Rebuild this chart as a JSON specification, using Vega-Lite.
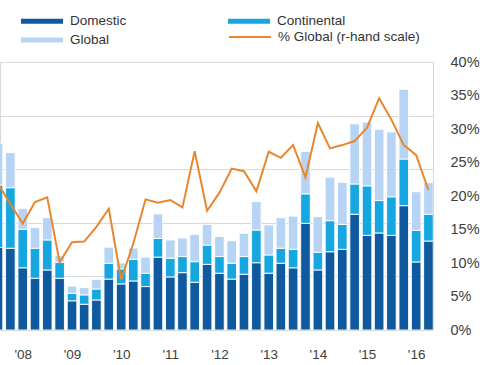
{
  "$schema": "https://vega.github.io/schema/vega-lite/v6.json",
  "width": 433,
  "height": 268,
  "autosize": {"type": "none"},
  "padding": {"left": 0, "top": 62, "right": 47, "bottom": 35},
  "config": {
    "font": "Liberation Sans",
    "view": {"stroke": "#d9d9d9", "strokeWidth": 1},
    "axis": {"labelColor": "#404040", "labelFontSize": 13.5, "labelFont": "Liberation Sans"},
    "legend": {"labelColor": "#333333", "labelFontSize": 13.5, "labelFont": "Liberation Sans"}
  },
  "datasets": {
    "bars": [
      {"q": "2007-07-01", "s": "Domestic", "o": 1, "v": 30.8}, {"q": "2007-07-01", "s": "Continental", "o": 2, "v": 23.3}, {"q": "2007-07-01", "s": "Global", "o": 3, "v": 15.6},
      {"q": "2007-10-01", "s": "Domestic", "o": 1, "v": 30.5}, {"q": "2007-10-01", "s": "Continental", "o": 2, "v": 22.6}, {"q": "2007-10-01", "s": "Global", "o": 3, "v": 13.1},
      {"q": "2008-01-01", "s": "Domestic", "o": 1, "v": 23.2}, {"q": "2008-01-01", "s": "Continental", "o": 2, "v": 14.4}, {"q": "2008-01-01", "s": "Global", "o": 3, "v": 7.7},
      {"q": "2008-04-01", "s": "Domestic", "o": 1, "v": 19.3}, {"q": "2008-04-01", "s": "Continental", "o": 2, "v": 11.2}, {"q": "2008-04-01", "s": "Global", "o": 3, "v": 7.7},
      {"q": "2008-07-01", "s": "Domestic", "o": 1, "v": 22.4}, {"q": "2008-07-01", "s": "Continental", "o": 2, "v": 11.2}, {"q": "2008-07-01", "s": "Global", "o": 3, "v": 8.3},
      {"q": "2008-10-01", "s": "Domestic", "o": 1, "v": 19.3}, {"q": "2008-10-01", "s": "Continental", "o": 2, "v": 6.0}, {"q": "2008-10-01", "s": "Global", "o": 3, "v": 2.5},
      {"q": "2009-01-01", "s": "Domestic", "o": 1, "v": 10.9}, {"q": "2009-01-01", "s": "Continental", "o": 2, "v": 2.8}, {"q": "2009-01-01", "s": "Global", "o": 3, "v": 2.7},
      {"q": "2009-04-01", "s": "Domestic", "o": 1, "v": 9.6}, {"q": "2009-04-01", "s": "Continental", "o": 2, "v": 3.5}, {"q": "2009-04-01", "s": "Global", "o": 3, "v": 2.7},
      {"q": "2009-07-01", "s": "Domestic", "o": 1, "v": 11.2}, {"q": "2009-07-01", "s": "Continental", "o": 2, "v": 4.1}, {"q": "2009-07-01", "s": "Global", "o": 3, "v": 3.6},
      {"q": "2009-10-01", "s": "Domestic", "o": 1, "v": 19.0}, {"q": "2009-10-01", "s": "Continental", "o": 2, "v": 5.9}, {"q": "2009-10-01", "s": "Global", "o": 3, "v": 6.0},
      {"q": "2010-01-01", "s": "Domestic", "o": 1, "v": 17.2}, {"q": "2010-01-01", "s": "Continental", "o": 2, "v": 5.6}, {"q": "2010-01-01", "s": "Global", "o": 3, "v": 2.2},
      {"q": "2010-04-01", "s": "Domestic", "o": 1, "v": 18.3}, {"q": "2010-04-01", "s": "Continental", "o": 2, "v": 8.1}, {"q": "2010-04-01", "s": "Global", "o": 3, "v": 4.2},
      {"q": "2010-07-01", "s": "Domestic", "o": 1, "v": 16.2}, {"q": "2010-07-01", "s": "Continental", "o": 2, "v": 5.0}, {"q": "2010-07-01", "s": "Global", "o": 3, "v": 6.0},
      {"q": "2010-10-01", "s": "Domestic", "o": 1, "v": 27.2}, {"q": "2010-10-01", "s": "Continental", "o": 2, "v": 7.0}, {"q": "2010-10-01", "s": "Global", "o": 3, "v": 9.1},
      {"q": "2011-01-01", "s": "Domestic", "o": 1, "v": 19.8}, {"q": "2011-01-01", "s": "Continental", "o": 2, "v": 7.0}, {"q": "2011-01-01", "s": "Global", "o": 3, "v": 6.8},
      {"q": "2011-04-01", "s": "Domestic", "o": 1, "v": 21.4}, {"q": "2011-04-01", "s": "Continental", "o": 2, "v": 6.0}, {"q": "2011-04-01", "s": "Global", "o": 3, "v": 6.9},
      {"q": "2011-07-01", "s": "Domestic", "o": 1, "v": 17.8}, {"q": "2011-07-01", "s": "Continental", "o": 2, "v": 7.7}, {"q": "2011-07-01", "s": "Global", "o": 3, "v": 10.2},
      {"q": "2011-10-01", "s": "Domestic", "o": 1, "v": 24.5}, {"q": "2011-10-01", "s": "Continental", "o": 2, "v": 7.2}, {"q": "2011-10-01", "s": "Global", "o": 3, "v": 7.7},
      {"q": "2012-01-01", "s": "Domestic", "o": 1, "v": 21.2}, {"q": "2012-01-01", "s": "Continental", "o": 2, "v": 6.2}, {"q": "2012-01-01", "s": "Global", "o": 3, "v": 7.5},
      {"q": "2012-04-01", "s": "Domestic", "o": 1, "v": 19.0}, {"q": "2012-04-01", "s": "Continental", "o": 2, "v": 5.9}, {"q": "2012-04-01", "s": "Global", "o": 3, "v": 8.4},
      {"q": "2012-07-01", "s": "Domestic", "o": 1, "v": 20.8}, {"q": "2012-07-01", "s": "Continental", "o": 2, "v": 6.6}, {"q": "2012-07-01", "s": "Global", "o": 3, "v": 8.7},
      {"q": "2012-10-01", "s": "Domestic", "o": 1, "v": 25.1}, {"q": "2012-10-01", "s": "Continental", "o": 2, "v": 12.2}, {"q": "2012-10-01", "s": "Global", "o": 3, "v": 10.6},
      {"q": "2013-01-01", "s": "Domestic", "o": 1, "v": 21.2}, {"q": "2013-01-01", "s": "Continental", "o": 2, "v": 6.8}, {"q": "2013-01-01", "s": "Global", "o": 3, "v": 11.2},
      {"q": "2013-04-01", "s": "Domestic", "o": 1, "v": 24.9}, {"q": "2013-04-01", "s": "Continental", "o": 2, "v": 5.6}, {"q": "2013-04-01", "s": "Global", "o": 3, "v": 11.4},
      {"q": "2013-07-01", "s": "Domestic", "o": 1, "v": 23.2}, {"q": "2013-07-01", "s": "Continental", "o": 2, "v": 6.9}, {"q": "2013-07-01", "s": "Global", "o": 3, "v": 12.4},
      {"q": "2013-10-01", "s": "Domestic", "o": 1, "v": 39.8}, {"q": "2013-10-01", "s": "Continental", "o": 2, "v": 11.0}, {"q": "2013-10-01", "s": "Global", "o": 3, "v": 15.8},
      {"q": "2014-01-01", "s": "Domestic", "o": 1, "v": 22.4}, {"q": "2014-01-01", "s": "Continental", "o": 2, "v": 6.6}, {"q": "2014-01-01", "s": "Global", "o": 3, "v": 13.3},
      {"q": "2014-04-01", "s": "Domestic", "o": 1, "v": 29.2}, {"q": "2014-04-01", "s": "Continental", "o": 2, "v": 11.6}, {"q": "2014-04-01", "s": "Global", "o": 3, "v": 16.2},
      {"q": "2014-07-01", "s": "Domestic", "o": 1, "v": 30.1}, {"q": "2014-07-01", "s": "Continental", "o": 2, "v": 9.3}, {"q": "2014-07-01", "s": "Global", "o": 3, "v": 15.7},
      {"q": "2014-10-01", "s": "Domestic", "o": 1, "v": 43.2}, {"q": "2014-10-01", "s": "Continental", "o": 2, "v": 11.3}, {"q": "2014-10-01", "s": "Global", "o": 3, "v": 22.4},
      {"q": "2015-01-01", "s": "Domestic", "o": 1, "v": 35.3}, {"q": "2015-01-01", "s": "Continental", "o": 2, "v": 18.5}, {"q": "2015-01-01", "s": "Global", "o": 3, "v": 23.8},
      {"q": "2015-04-01", "s": "Domestic", "o": 1, "v": 36.2}, {"q": "2015-04-01", "s": "Continental", "o": 2, "v": 12.1}, {"q": "2015-04-01", "s": "Global", "o": 3, "v": 26.6},
      {"q": "2015-07-01", "s": "Domestic", "o": 1, "v": 35.3}, {"q": "2015-07-01", "s": "Continental", "o": 2, "v": 14.4}, {"q": "2015-07-01", "s": "Global", "o": 3, "v": 24.2},
      {"q": "2015-10-01", "s": "Domestic", "o": 1, "v": 46.4}, {"q": "2015-10-01", "s": "Continental", "o": 2, "v": 17.4}, {"q": "2015-10-01", "s": "Global", "o": 3, "v": 26.0},
      {"q": "2016-01-01", "s": "Domestic", "o": 1, "v": 25.4}, {"q": "2016-01-01", "s": "Continental", "o": 2, "v": 11.8}, {"q": "2016-01-01", "s": "Global", "o": 3, "v": 14.4},
      {"q": "2016-04-01", "s": "Domestic", "o": 1, "v": 33.2}, {"q": "2016-04-01", "s": "Continental", "o": 2, "v": 10.0}, {"q": "2016-04-01", "s": "Global", "o": 3, "v": 11.8}
    ],
    "line": [
      {"q": "2007-07-01", "pct": 21.8}, {"q": "2007-10-01", "pct": 18.8},
      {"q": "2008-01-01", "pct": 15.9}, {"q": "2008-04-01", "pct": 19.1}, {"q": "2008-07-01", "pct": 19.8}, {"q": "2008-10-01", "pct": 10.1},
      {"q": "2009-01-01", "pct": 13.1}, {"q": "2009-04-01", "pct": 13.2}, {"q": "2009-07-01", "pct": 15.4}, {"q": "2009-10-01", "pct": 18.1},
      {"q": "2010-01-01", "pct": 7.5}, {"q": "2010-04-01", "pct": 12.9}, {"q": "2010-07-01", "pct": 19.5}, {"q": "2010-10-01", "pct": 19.0},
      {"q": "2011-01-01", "pct": 19.4}, {"q": "2011-04-01", "pct": 18.3}, {"q": "2011-07-01", "pct": 26.7}, {"q": "2011-10-01", "pct": 17.8},
      {"q": "2012-01-01", "pct": 20.5}, {"q": "2012-04-01", "pct": 24.1}, {"q": "2012-07-01", "pct": 23.7}, {"q": "2012-10-01", "pct": 20.7},
      {"q": "2013-01-01", "pct": 26.6}, {"q": "2013-04-01", "pct": 25.7}, {"q": "2013-07-01", "pct": 27.6}, {"q": "2013-10-01", "pct": 22.8},
      {"q": "2014-01-01", "pct": 30.9}, {"q": "2014-04-01", "pct": 27.1}, {"q": "2014-07-01", "pct": 27.6}, {"q": "2014-10-01", "pct": 28.2},
      {"q": "2015-01-01", "pct": 30.2}, {"q": "2015-04-01", "pct": 34.6}, {"q": "2015-07-01", "pct": 31.4}, {"q": "2015-10-01", "pct": 27.6},
      {"q": "2016-01-01", "pct": 26.1}, {"q": "2016-04-01", "pct": 20.9}
    ]
  },
  "encoding": {
    "x": {
      "field": "q", "type": "temporal",
      "scale": {"type": "utc", "padding": 0, "domain": [{"year": 2007, "month": 7, "date": 16, "utc": true}, {"year": 2016, "month": 5, "date": 5, "utc": true}]},
      "axis": {"title": null, "format": "'%y", "tickCount": {"interval": "year", "step": 1}, "ticks": false, "domain": false, "grid": false, "labelPadding": 17, "labelOverlap": false, "labelFlush": false}
    }
  },
  "layer": [
    {
      "data": {"name": "bars"},
      "mark": {"type": "bar", "width": 9.6, "stroke": "white", "strokeWidth": 0.9, "clip": true},
      "encoding": {
        "y": {
          "field": "v", "type": "quantitative", "stack": "zero",
          "scale": {"domain": [0, 100], "nice": false},
          "axis": {"title": null, "orient": "left", "labels": false, "ticks": false, "domain": false, "grid": true, "gridColor": "#d9d9d9", "values": [0, 20, 40, 60, 80, 100]}
        },
        "fill": {
          "field": "s", "type": "nominal",
          "scale": {"domain": ["Domestic", "Global", "Continental"], "range": ["#0f5a9e", "#b8d4f4", "#17a7e0"]},
          "legend": {"title": null, "orient": "none", "legendX": 35, "legendY": -48, "columns": 2, "columnPadding": 101, "rowPadding": 5, "symbolType": "M-3,-0.35L3,-0.35L3,0.35L-3,0.35Z", "symbolSize": 196, "symbolStrokeWidth": 0, "labelOffset": 21}
        },
        "order": {"field": "o", "type": "quantitative"}
      }
    },
    {
      "data": {"name": "line"},
      "mark": {"type": "line", "strokeWidth": 2, "clip": true},
      "encoding": {
        "y": {
          "field": "pct", "type": "quantitative",
          "scale": {"domain": [0, 40], "nice": false},
          "axis": {"title": null, "orient": "right", "ticks": false, "domain": false, "grid": false, "values": [0, 5, 10, 15, 20, 25, 30, 35, 40], "labelExpr": "datum.value + '%'", "labelPadding": 17, "labelFontSize": 14.5}
        },
        "stroke": {
          "datum": "% Global (r-hand scale)",
          "scale": {"range": ["#e8872e"]},
          "legend": {"title": null, "orient": "none", "legendX": 228, "legendY": -47, "symbolType": "stroke", "symbolSize": 1764, "symbolStrokeWidth": 2, "labelOffset": 6}
        }
      }
    }
  ],
  "resolve": {"scale": {"y": "independent"}}
}
